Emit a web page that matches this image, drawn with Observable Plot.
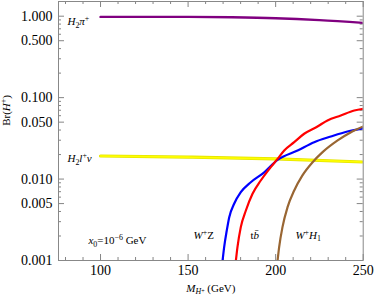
<!DOCTYPE html>
<html><head><meta charset="utf-8">
<script src="https://cdn.jsdelivr.net/npm/d3@7"></script>
<script src="https://cdn.jsdelivr.net/npm/@observablehq/plot@0.6"></script>
<style>body{margin:0;background:#fff}</style>
</head><body><div id="chart"></div>
<script>
// ---- data ----
const xMajor = [100, 150, 200, 250];
const xMinor = [80, 90, 110, 120, 130, 140, 160, 170, 180, 190, 210, 220, 230, 240];
const yMajor = [0.001, 0.005, 0.01, 0.05, 0.1, 0.5, 1];
const yMajorLabels = ["0.001", "0.005", "0.010", "0.050", "0.100", "0.500", "1.000"];
const yMinor = [0.002, 0.003, 0.004, 0.006, 0.007, 0.008, 0.009,
  0.02, 0.03, 0.04, 0.06, 0.07, 0.08, 0.09,
  0.2, 0.3, 0.4, 0.6, 0.7, 0.8, 0.9];

const piM = [100, 150, 175, 200, 225, 250];
const piBr = [0.98, 0.98, 0.97, 0.945, 0.895, 0.827];

const lnuM = [100, 150, 200, 250];
const lnuBr = [0.0192, 0.0186, 0.0177, 0.0162];

const tbM = [177.3, 178.2, 180.1, 183.0, 186.8, 191.5, 197.2, 201.1, 204.9, 210.6, 216.3, 223.9, 229.6, 237.2, 244.9, 250];
const tbBr = [0.001, 0.00146, 0.00257, 0.00411, 0.00659, 0.0096, 0.014, 0.0177, 0.0225, 0.0284, 0.036, 0.0442, 0.0524, 0.0603, 0.0695, 0.073];

const wzM = [169.7, 170.6, 172.1, 173.5, 176.3, 180.1, 185.8, 193.5, 201.1, 212.5, 222.0, 231.5, 241.0, 250];
const wzBr = [0.001, 0.00146, 0.00234, 0.0034, 0.00497, 0.0069, 0.00915, 0.0121, 0.0172, 0.0224, 0.0284, 0.0333, 0.0384, 0.0421];

const whM = [201.1, 202.0, 203.9, 206.8, 210.6, 215.3, 221.1, 226.8, 235.4, 243.0, 250];
const whBr = [0.001, 0.00146, 0.00257, 0.00452, 0.00724, 0.0111, 0.0161, 0.0214, 0.0298, 0.0376, 0.0442];

const labelKeys = ["pi", "lnu", "x0", "wz", "tb", "wh"];
const labelM = [81.1, 81.1, 93.1, 153.1, 185.6, 211.3];
const labelBr = [0.86, 0.0179, 0.00176, 0.00203, 0.00203, 0.00203];

const rich = {
  pi: [["H", "i"], ["2", "sub"], ["π", "i"], ["+", "sup"]],
  lnu: [["H", "i"], ["2", "sub"], ["l", "i"], ["+", "sup"], ["ν", "i"]],
  x0: [["x", "i"], ["0", "sub"], ["=10", ""], ["−6", "sup"], [" GeV", ""]],
  wz: [["W", "i"], ["+", "sup"], ["Z", ""]],
  tb: [["t", ""], ["b\u0304", "i"]],
  wh: [["W", "i"], ["+", "sup"], ["H", "i"], ["1", "sub"]],
  ylab: [["Br(", ""], ["H", "i"], ["+", "sup"], [")", ""]],
  xlab: [["M", "i"], ["H", "isub"], ["+", "subsup"], [" (GeV)", ""]]
};

// ---- layout ----
const W = 374, H = 299, mL = 58, mR = 11.3, mT = 1, mB = 39;
const fw = W - mL - mR, fh = H - mT - mB;

const series = (M, B) => M.map((m, i) => ({m, b: B[i]}));
const lbl = labelKeys.map((k, i) => ({k, m: labelM[i], b: labelBr[i]}));
const yTickData = yMajor.map((v, i) => ({v, t: yMajorLabels[i]}));
const tickStroke = "#666";

const chart = Plot.plot({
  width: W, height: H,
  marginLeft: mL, marginRight: mR, marginTop: mT, marginBottom: mB,
  style: {fontFamily: "Liberation Serif", background: "#fff", color: "#000"},
  x: {domain: [76, 250], axis: null},
  y: {type: "log", domain: [0.001, 1.515], axis: null},
  marks: [
    // inward ticks
    Plot.tickY(yMajor, {y: d => d, insetRight: fw - 6, stroke: tickStroke, strokeWidth: 0.8}),
    Plot.tickY(yMinor, {y: d => d, insetRight: fw - 3, stroke: tickStroke, strokeWidth: 0.8}),
    Plot.tickY(yMajor, {y: d => d, insetLeft: fw - 6, stroke: tickStroke, strokeWidth: 0.8}),
    Plot.tickY(yMinor, {y: d => d, insetLeft: fw - 3, stroke: tickStroke, strokeWidth: 0.8}),
    Plot.tickX(xMajor, {x: d => d, insetTop: fh - 6, stroke: tickStroke, strokeWidth: 0.8}),
    Plot.tickX(xMinor, {x: d => d, insetTop: fh - 3, stroke: tickStroke, strokeWidth: 0.8}),
    Plot.tickX(xMajor, {x: d => d, insetBottom: fh - 6, stroke: tickStroke, strokeWidth: 0.8}),
    Plot.tickX(xMinor, {x: d => d, insetBottom: fh - 3, stroke: tickStroke, strokeWidth: 0.8}),
    // tick labels
    Plot.text(yTickData, {y: "v", text: "t", frameAnchor: "left", textAnchor: "end", dx: -6, fontSize: 14, fill: "#000"}),
    Plot.text(xMajor, {x: d => d, text: d => String(d), frameAnchor: "bottom", lineAnchor: "top", dy: 5, fontSize: 14, fill: "#000"}),
    // curves
    Plot.line(series(lnuM, lnuBr), {x: "m", y: "b", stroke: "#e4e400", strokeWidth: 3.2, curve: "monotone-x", clip: true}),
    Plot.line(series(lnuM, lnuBr), {x: "m", y: "b", stroke: "#ffff00", strokeWidth: 1.6, curve: "monotone-x", clip: true}),
    Plot.line(series(piM, piBr), {x: "m", y: "b", stroke: "#800080", strokeWidth: 2.4, curve: "monotone-x", clip: true}),
    Plot.line(series(wzM, wzBr), {x: "m", y: "b", stroke: "#0000ff", strokeWidth: 2.2, curve: "monotone-x", clip: true}),
    Plot.line(series(tbM, tbBr), {x: "m", y: "b", stroke: "#ff0000", strokeWidth: 2.2, curve: "monotone-x", clip: true}),
    Plot.line(series(whM, whBr), {x: "m", y: "b", stroke: "#996633", strokeWidth: 2.2, curve: "monotone-x", clip: true}),
    Plot.frame({stroke: "#888", strokeWidth: 1}),
    // labels
    Plot.text(lbl, {x: "m", y: "b", text: "k", textAnchor: "start", fontSize: 11, className: "rich"}),
    Plot.text(["ylab"], {frameAnchor: "left", y: [0.045], text: d => d, rotate: -90, dx: -52, fontSize: 11, className: "rich"}),
    Plot.text(["xlab"], {frameAnchor: "bottom", text: d => d, dy: 31, fontSize: 11, className: "rich"})
  ]
});

document.getElementById("chart").appendChild(chart);

// rich-text post-processing (italics, sub/superscripts)
const ns = "http://www.w3.org/2000/svg";
chart.querySelectorAll(".rich text").forEach(el => {
  const key = el.textContent;
  const parts = rich[key];
  if (!parts) return;
  el.textContent = "";
  let cur = 0;
  for (const [s, st] of parts) {
    const t = document.createElementNS(ns, "tspan");
    let off = 0;
    if (st.includes("subsup")) off = 1;
    else if (st.includes("sub")) off = 2.5;
    else if (st.includes("sup")) off = -4;
    t.setAttribute("dy", off - cur);
    cur = off;
    if (st.includes("i")) t.setAttribute("font-style", "italic");
    if (st.includes("sub") || st.includes("sup")) t.setAttribute("font-size", st.includes("subsup") ? "0.55em" : "0.72em");
    t.textContent = s;
    el.appendChild(t);
  }
});
</script>
</body></html>
